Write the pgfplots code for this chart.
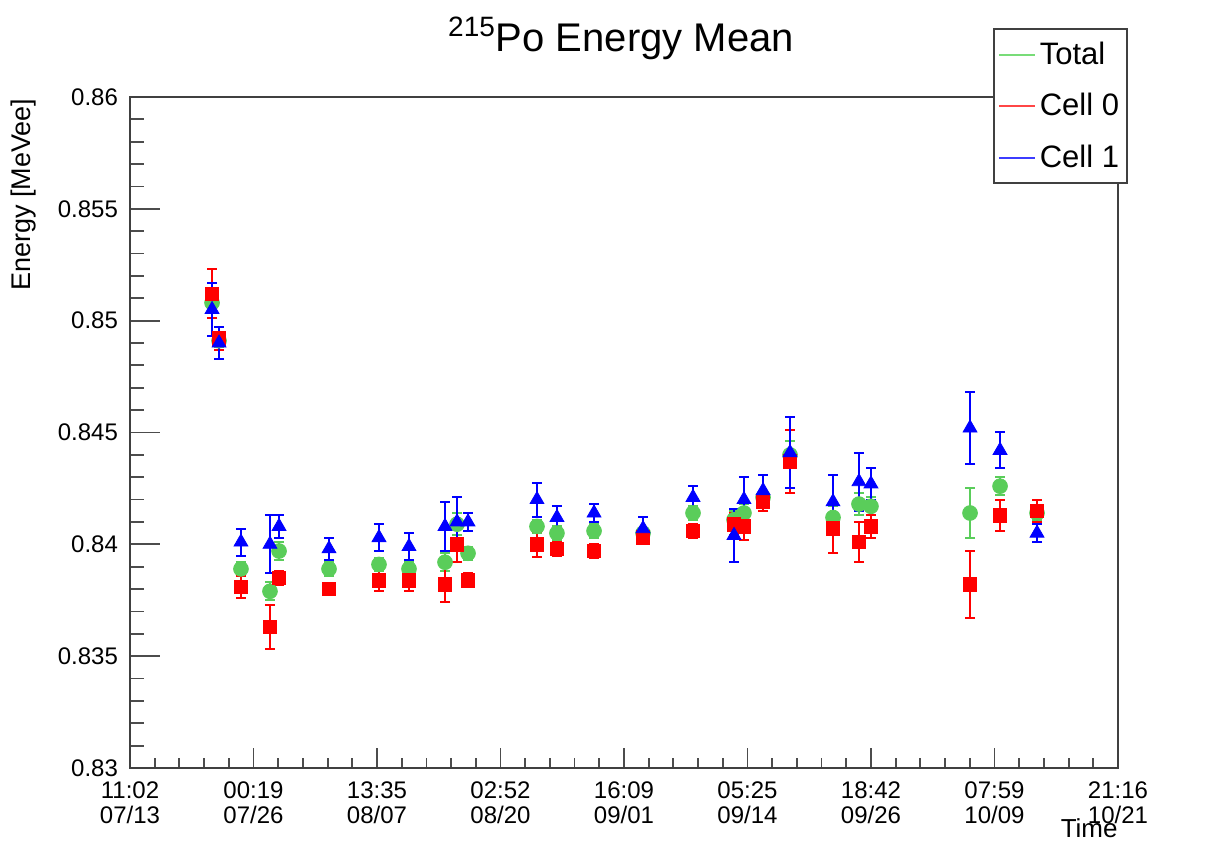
\documentclass[border=0pt]{standalone}
\usepackage{pgfplots}
\usepackage{pgfplotstable}
\pgfplotsset{compat=1.18}
\usepackage{fontspec}
\setmainfont{Liberation Sans}
\definecolor{cTot}{RGB}{90,205,90}
\definecolor{cC0}{RGB}{255,0,0}
\definecolor{cC1}{RGB}{0,0,255}
\definecolor{lTot}{RGB}{120,220,120}
\definecolor{lC0}{RGB}{255,70,70}
\definecolor{lC1}{RGB}{60,60,255}

\pgfplotstableread{
x y e
8.34 0.8508 0.0004
9.05 0.8491 0.0003
11.28 0.8389 0.0003
14.23 0.8379 0.0004
15.15 0.8397 0.0004
20.23 0.8389 0.0003
25.31 0.8391 0.0003
28.36 0.8389 0.0003
32.02 0.8392 0.0004
33.24 0.8409 0.0005
34.36 0.8396 0.0003
41.37 0.8408 0.0003
43.40 0.8405 0.0003
47.17 0.8406 0.0003
52.15 0.8405 0.0002
57.23 0.8414 0.0003
61.40 0.8411 0.0004
62.41 0.8414 0.0004
64.35 0.8421 0.0003
67.09 0.8440 0.0006
71.46 0.8412 0.0005
74.10 0.8418 0.0005
75.32 0.8417 0.0004
85.39 0.8414 0.0011
88.44 0.8426 0.0004
92.20 0.8414 0.0003
}\total

\pgfplotstableread{
x y e
8.34 0.8512 0.0011
9.05 0.8492 0.0005
11.28 0.8381 0.0005
14.23 0.8363 0.0010
15.15 0.8385 0.0003
20.23 0.8380 0.0002
25.31 0.8384 0.0005
28.36 0.8384 0.0005
32.02 0.8382 0.0008
33.24 0.8400 0.0008
34.36 0.8384 0.0003
41.37 0.8400 0.00055
43.40 0.8398 0.0003
47.17 0.8397 0.0003
52.15 0.8403 0.0003
57.23 0.8406 0.0003
61.40 0.8409 0.0005
62.41 0.8408 0.0006
64.35 0.8419 0.0004
67.09 0.8437 0.0014
71.46 0.8407 0.0011
74.10 0.8401 0.0009
75.32 0.8408 0.0005
85.39 0.8382 0.0015
88.44 0.8413 0.0007
92.20 0.8415 0.0005
}\cellzero

\pgfplotstableread{
x y e
8.34 0.8505 0.0012
9.05 0.8490 0.0007
11.28 0.8401 0.0006
14.23 0.8400 0.0013
15.15 0.8408 0.0005
20.23 0.8398 0.0005
25.31 0.8403 0.0006
28.36 0.8399 0.0006
32.02 0.8408 0.0011
33.24 0.8410 0.0011
34.36 0.8410 0.0004
41.37 0.8420 0.00076
43.40 0.8412 0.0005
47.17 0.8414 0.0004
52.15 0.8407 0.0005
57.23 0.8421 0.0005
61.40 0.8404 0.0012
62.41 0.8420 0.0010
64.35 0.8424 0.0007
67.09 0.8441 0.0016
71.46 0.8419 0.0012
74.10 0.8428 0.0013
75.32 0.8427 0.0007
85.39 0.8452 0.0016
88.44 0.8442 0.0008
92.20 0.8405 0.0004
}\cellone

\begin{document}
\begin{tikzpicture}
\path[use as bounding box] (0,0) rectangle (608pt,422.5pt);
\begin{axis}[
  at={(65pt,38.5pt)}, anchor=south west,
  scale only axis, width=494pt, height=335.5pt,
  xmin=0, xmax=100.43, ymin=0.83, ymax=0.86,
  axis line style={line width=0.9pt, black!75},
  xtick={0,12.554,25.107,37.661,50.215,62.768,75.322,87.876,100.43},
  xticklabels={{11:02\\07/13},{00:19\\07/26},{13:35\\08/07},{02:52\\08/20},{16:09\\09/01},{05:25\\09/14},{18:42\\09/26},{07:59\\10/09},{21:16\\10/21}},
  xticklabel style={align=center, font=\fontsize{12}{12.5}\selectfont, yshift=-3.5pt},
  minor xtick={2.5107,5.0215,7.5322,10.043,15.064,17.575,20.086,22.596,27.618,30.129,32.639,35.150,40.171,42.682,45.193,47.704,52.725,55.236,57.747,60.257,65.279,67.790,70.300,72.811,77.832,80.343,82.854,85.365,90.386,92.897,95.408,97.918},
  ytick={0.83,0.835,0.84,0.845,0.85,0.855,0.86},
  yticklabels={0.83,0.835,0.84,0.845,0.85,0.855,0.86},
  yticklabel style={font=\fontsize{12}{14}\selectfont, xshift=-2.5pt},
  minor y tick num=4,
  xtick pos=bottom, ytick pos=left,
  tick align=inside,
  major tick length=15pt, minor tick length=7pt,
  major x tick style={/pgfplots/major tick length=10pt},
  minor x tick style={/pgfplots/minor tick length=5pt},
  tick style={line width=0.9pt, black!70},
  clip=false,
  legend style={at={(1.0101,1.1028)}, anchor=north east, draw=black!75, line width=0.9pt,
    fill=white, font=\fontsize{15.5}{17}\selectfont, inner xsep=2pt, inner ysep=4.5pt,
    row sep=9pt, /tikz/every odd column/.append style={column sep=0pt}},
  legend cell align=left,
  legend image code/.code={\draw[#1, line width=1pt] (5pt,0pt) -- (23pt,0pt);},
]
\addlegendimage{lTot}
\addlegendentry{Total}
\addlegendimage{lC0}
\addlegendentry{Cell 0}
\addlegendimage{lC1}
\addlegendentry{Cell 1}

\addplot[only marks, mark=*, mark size=3.7pt, color=cTot, mark options={draw=cTot, fill=cTot},
  error bars/.cd, y dir=both, y explicit,
  error bar style={line width=1pt, cTot},
  error mark options={rotate=90, mark size=2.5pt, line width=1pt, cTot}]
  table[x=x, y=y, y error=e] {\total};
\addplot[only marks, mark=square*, mark size=3.4pt, color=cC0, mark options={draw=cC0, fill=cC0},
  error bars/.cd, y dir=both, y explicit,
  error bar style={line width=1pt, cC0},
  error mark options={rotate=90, mark size=2.5pt, line width=1pt, cC0}]
  table[x=x, y=y, y error=e] {\cellzero};
\addplot[only marks, mark=triangle*, mark size=4pt, color=cC1, mark options={draw=cC1, fill=cC1},
  error bars/.cd, y dir=both, y explicit,
  error bar style={line width=1pt, cC1},
  error mark options={rotate=90, mark size=2.5pt, line width=1pt, cC1}]
  table[x=x, y=y, y error=e] {\cellone};

\node[anchor=base, font=\fontsize{20}{24}\selectfont] at (rel axis cs:0.497,1) [yshift=22.5pt] {\textsuperscript{215}Po Energy Mean};
\node[rotate=90, anchor=base east, font=\fontsize{13.5}{15}\selectfont] at (rel axis cs:-0.1012,1.008) {Energy [MeVee]};
\node[anchor=base east, inner sep=0pt, font=\fontsize{13}{14}\selectfont] at (rel axis cs:1,-0.1043) {Time};
\end{axis}
\end{tikzpicture}
\end{document}
